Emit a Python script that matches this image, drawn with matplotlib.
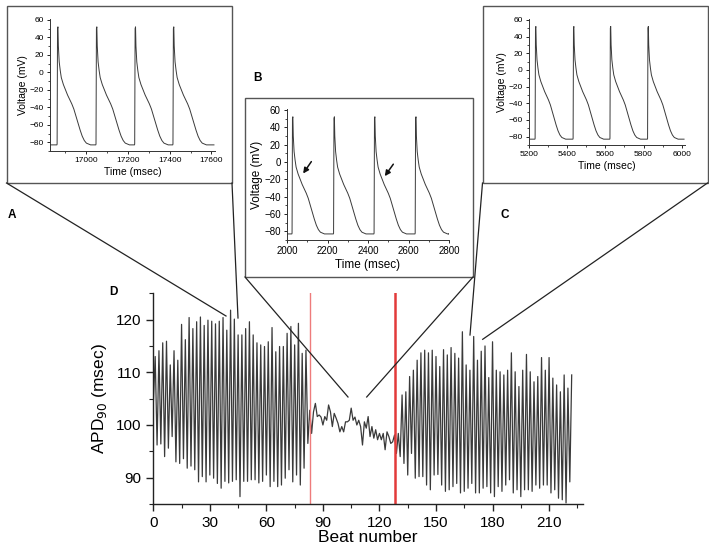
import numpy as np
import matplotlib
matplotlib.use("Agg")
import matplotlib.pyplot as plt
from matplotlib.patches import Rectangle
from matplotlib.lines import Line2D
from matplotlib.ticker import MultipleLocator

plt.rcParams['font.family'] = ['Liberation Sans', 'DejaVu Sans']

# ---------------- data ----------------
apd90 = [
    104.0, 113.0, 96.2, 114.1, 96.4, 115.6, 94.0, 115.9, 95.6, 111.4,
    97.8, 114.1, 93.0, 112.3, 92.7, 119.1, 93.6, 116.2, 91.8, 120.4,
    92.2, 118.3, 91.5, 119.6, 89.2, 120.5, 90.2, 118.9, 89.2, 119.9,
    90.5, 119.7, 89.9, 119.2, 88.9, 119.7, 88.0, 120.4, 89.3, 118.0,
    89.0, 121.8, 89.3, 120.1, 89.6, 117.1, 86.4, 117.1, 89.3, 118.3,
    89.3, 119.6, 89.6, 117.1, 89.6, 115.6, 89.0, 115.2, 89.3, 114.9,
    90.5, 115.8, 88.3, 118.5, 89.3, 113.9, 88.3, 114.9, 88.6, 114.9,
    89.9, 117.4, 91.5, 118.7, 89.2, 115.2, 90.5, 119.3, 88.6, 113.6,
    91.8, 114.2, 96.5,
    102.8, 98.4, 102.5, 104.1, 101.6, 101.9, 101.5, 100.0, 101.6, 100.9,
    103.8, 102.5, 99.7, 102.2, 101.3, 100.3, 98.7, 99.7, 98.7, 100.6,
    100.6, 100.9, 103.2, 100.9, 101.5, 100.0, 100.9, 99.7, 96.2, 100.6,
    99.4, 101.6, 97.8, 99.7, 97.5, 99.1, 97.2, 98.4, 97.2, 98.4,
    95.3, 98.7, 97.8, 96.5, 96.8, 98.1,
    94.6, 98.4, 94.0, 105.7, 92.7, 106.3, 90.5, 109.2, 94.6, 110.4,
    89.9, 112.3, 90.2, 113.7, 90.2, 114.2, 88.6, 113.7, 87.7, 114.2,
    90.5, 113.0, 90.6, 111.1, 88.6, 114.3, 87.4, 113.3, 87.7, 114.7,
    88.3, 113.6, 88.9, 112.7, 87.1, 117.7, 87.4, 111.4, 88.0, 110.4,
    88.9, 116.8, 87.1, 112.3, 87.1, 114.0, 88.0, 115.0, 88.3, 109.0,
    87.1, 115.8, 86.4, 110.4, 88.3, 110.1, 87.4, 109.5, 88.6, 110.4,
    89.6, 113.7, 87.1, 110.1, 87.7, 107.3, 86.4, 110.4, 87.7, 113.4,
    87.7, 110.1, 87.4, 108.2, 88.6, 109.2, 88.0, 112.8, 88.6, 110.4,
    88.6, 112.8, 87.1, 108.9, 87.7, 107.6, 86.1, 106.3, 85.8, 109.5,
    85.2, 107.0, 89.2, 109.5,
]
red_lines = [83, 128]

# action potential template (time from upstroke in ms, voltage mV)
ap_t = [-1, 0, 2, 4, 6, 10, 15, 20, 30, 40, 50, 60, 70, 80, 90, 100,
        110, 120, 130, 140, 150, 160, 175]
ap_v = [-83, -82, 50, 52, 30, 12, 2, -6, -14, -20, -26, -31, -36, -42,
        -50, -58, -66, -73, -78, -81, -82, -83, -83]

onsets_A = [16862, 17048, 17233, 17416]
range_A = (16828, 17612)
onsets_B = [2025, 2230, 2430, 2633]
range_B = (2000, 2800)
onsets_C = [5232, 5431, 5624, 5821]
range_C = (5200, 6012)

xticks_A = [17000, 17200, 17400, 17600]
xticks_B = [2000, 2200, 2400, 2600, 2800]
xticks_C = [5200, 5400, 5600, 5800, 6000]
vticks = [-80, -60, -40, -20, 0, 20, 40, 60]

# arrows in B (tail -> head) in data coords
arrows_B = [((2128, 3), (2072, -16)), ((2533, 0), (2475, -19))]

# ---------------- figure ----------------
W, H = 709, 545
fig = plt.figure(figsize=(W / 100, H / 100), dpi=100)


def rect(l, t, r, b):
    return [l / W, 1 - b / H, (r - l) / W, (b - t) / H]


def fpt(x, y):
    return x / W, 1 - y / H


line_col = '#3a3a3a'

# main chart
ax = fig.add_axes(rect(153.3, 293.3, 583, 504))
beats = np.arange(len(apd90))
ax.plot(beats, apd90, color=line_col, lw=0.9)
ax.axvline(red_lines[0], color='#ee7b7b', lw=1.0)
ax.axvline(red_lines[1], color='#e23a3a', lw=1.8)
ax.set_xlim(0, 228)
ax.set_ylim(85, 125)
ax.set_xticks([0, 30, 60, 90, 120, 150, 180, 210])
ax.set_yticks([90, 100, 110, 120])
ax.xaxis.set_minor_locator(MultipleLocator(15))
ax.yaxis.set_minor_locator(MultipleLocator(5))
ax.spines['top'].set_visible(False)
ax.spines['right'].set_visible(False)
for s in ['left', 'bottom']:
    ax.spines[s].set_color('#222')
    ax.spines[s].set_linewidth(1.0)
ax.tick_params(which='major', length=5, width=1, labelsize=11, color='#222')
ax.tick_params(which='minor', length=3, width=0.8, color='#222')
ax.set_xlabel('Beat number', fontsize=12.5, labelpad=0)
ax.set_ylabel('APD$_{90}$ (msec)', fontsize=12.5, labelpad=5)


def trace(onsets, rng):
    ts, vs = [rng[0]], [-83]
    for o in onsets:
        for t, v in zip(ap_t, ap_v):
            ts.append(o + t)
            vs.append(v)
    ts.append(rng[1])
    vs.append(-83)
    return ts, vs


def inset(box, axr, onsets, rng, xticks):
    l, t, r, b = box
    fig.patches.append(Rectangle(fpt(l, b), (r - l) / W, (b - t) / H,
                                 transform=fig.transFigure, fill=False,
                                 edgecolor='#555', lw=1.0))
    a = fig.add_axes(rect(*axr))
    ts, vs = trace(onsets, rng)
    a.plot(ts, vs, color=line_col, lw=0.7)
    a.set_xlim(rng[0], rng[1] + 5)
    a.set_ylim(-90, 61)
    a.set_xticks(xticks)
    a.set_yticks(vticks)
    a.xaxis.set_minor_locator(MultipleLocator(100))
    a.yaxis.set_minor_locator(MultipleLocator(10))
    a.spines['top'].set_visible(False)
    a.spines['right'].set_visible(False)
    for s in ['left', 'bottom']:
        a.spines[s].set_linewidth(0.7)
        a.spines[s].set_color('#333')
    a.tick_params(which='major', length=2.5, width=0.6, labelsize=6, pad=2)
    a.tick_params(which='minor', length=1.5, width=0.5)
    a.set_xlabel('Time (msec)', fontsize=7.5, labelpad=2)
    a.set_ylabel('Voltage (mV)', fontsize=7.5, labelpad=1)
    return a


axA = inset((6.5, 6, 232, 183), (50, 19, 215, 151), onsets_A, range_A, xticks_A)
axB = inset((245, 98, 473, 277), (287, 109, 449, 240), onsets_B, range_B, xticks_B)
axC = inset((482.5, 6, 707.5, 183), (529, 19, 685, 145), onsets_C, range_C, xticks_C)
axB.set_xlim(range_B[0], range_B[1])
axB.tick_params(labelsize=7)
axB.xaxis.label.set_size(8.5)
axB.yaxis.label.set_size(8.5)

for (tail, head) in arrows_B:
    axB.annotate('', xy=head, xytext=tail,
                 arrowprops=dict(arrowstyle='-|>', color='#111', lw=1.1,
                                 mutation_scale=8))

# connector lines (figure pixel coordinates)
connectors = [
    ((6.5, 183), (226, 316)), ((232, 183), (238, 318)),
    ((245, 277), (348, 397)), ((473, 277), (366.7, 397)),
    ((482.5, 183), (470, 335)), ((707.5, 183), (482.7, 339.3)),
]
for p0, p1 in connectors:
    x0, y0 = fpt(*p0)
    x1, y1 = fpt(*p1)
    fig.lines.append(Line2D([x0, x1], [y0, y1], transform=fig.transFigure,
                            color='#222', lw=0.9))

# panel letters
for lab, (x, y) in {'A': (12, 215), 'B': (258, 78), 'C': (505, 215),
                    'D': (113, 292)}.items():
    fig.text(x / W, 1 - y / H, lab, fontsize=8.5, fontweight='bold',
             ha='center', va='center')

fig.savefig('out.png', dpi=100)
